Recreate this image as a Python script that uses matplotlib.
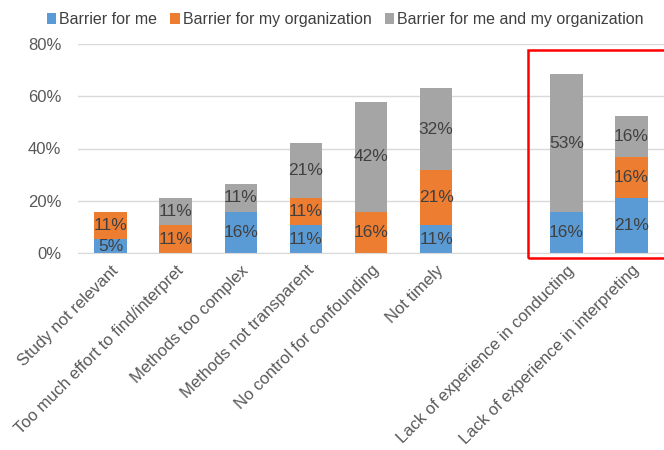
import matplotlib
matplotlib.use("Agg")
import matplotlib.pyplot as plt
from matplotlib.patches import Rectangle
import numpy as np

plt.rcParams["font.family"] = ["Liberation Sans", "DejaVu Sans"]

# survey answers, % of respondents (n=19)
categories = [
    "Study not relevant",
    "Too much effort to find/interpret",
    "Methods too complex",
    "Methods not transparent",
    "No control for confounding",
    "Not timely",
    "Lack of experience in conducting",
    "Lack of experience in interpreting",
]
barrier_me = [5.26, 0, 15.79, 10.53, 0, 10.53, 15.79, 21.05]
barrier_org = [10.53, 10.53, 0, 10.53, 15.79, 21.05, 0, 15.79]
barrier_both = [0, 10.53, 10.53, 21.05, 42.11, 31.58, 52.63, 15.79]
series_names = ["Barrier for me", "Barrier for my organization",
                "Barrier for me and my organization"]
colors = ["#5B9BD5", "#ED7D31", "#A5A5A5"]

# last two categories sit apart after an empty slot
x = np.array([0, 1, 2, 3, 4, 5, 7, 8])

fig = plt.figure(figsize=(6.64, 4.5), dpi=100)
ax = fig.add_axes([0.1175, 0.4378, 0.8825, 0.4644])

bottom = np.zeros(len(categories))
for vals, name, col in zip([barrier_me, barrier_org, barrier_both], series_names, colors):
    vals = np.array(vals)
    ax.bar(x, vals, width=0.5, bottom=bottom, color=col, label=name, zorder=2)
    for xi, b, v in zip(x, bottom, vals):
        if v > 0:
            ax.text(xi, b + v / 2, f"{v:.0f}%", ha="center", va="center",
                    fontsize=12.5, color="#404040", zorder=3)
    bottom += vals

ax.set_xlim(-0.5, 8.5)
ax.set_ylim(0, 80)
ax.set_yticks([0, 20, 40, 60, 80])
ax.set_yticklabels([f"{t}%" for t in [0, 20, 40, 60, 80]], fontsize=12, color="#595959")
ax.yaxis.grid(True, color="#D9D9D9", linewidth=1, zorder=0)
ax.set_xticks(x)
ax.set_xticklabels(categories, rotation=45, ha="right", rotation_mode="anchor",
                   fontsize=12, color="#595959")
ax.tick_params(axis="both", length=0)
ax.tick_params(axis="x", pad=7)
ax.tick_params(axis="y", pad=12)
for s in ["top", "right", "left"]:
    ax.spines[s].set_visible(False)
ax.spines["bottom"].set_color("#D9D9D9")

fig.legend(loc="upper center", bbox_to_anchor=(0.52, 1.005), ncol=3, frameon=False,
           fontsize=11.5, handlelength=0.6, handleheight=0.6, handletextpad=0.2,
           columnspacing=0.8, labelcolor="#404040")

# highlight box around the experience questions
fig.patches.append(Rectangle((528 / 664, 1 - 258 / 450), 0.25, 208 / 450,
                             transform=fig.transFigure, fill=False,
                             edgecolor="#FF0000", linewidth=1.8, zorder=5))

fig.savefig("out.png", dpi=100)
